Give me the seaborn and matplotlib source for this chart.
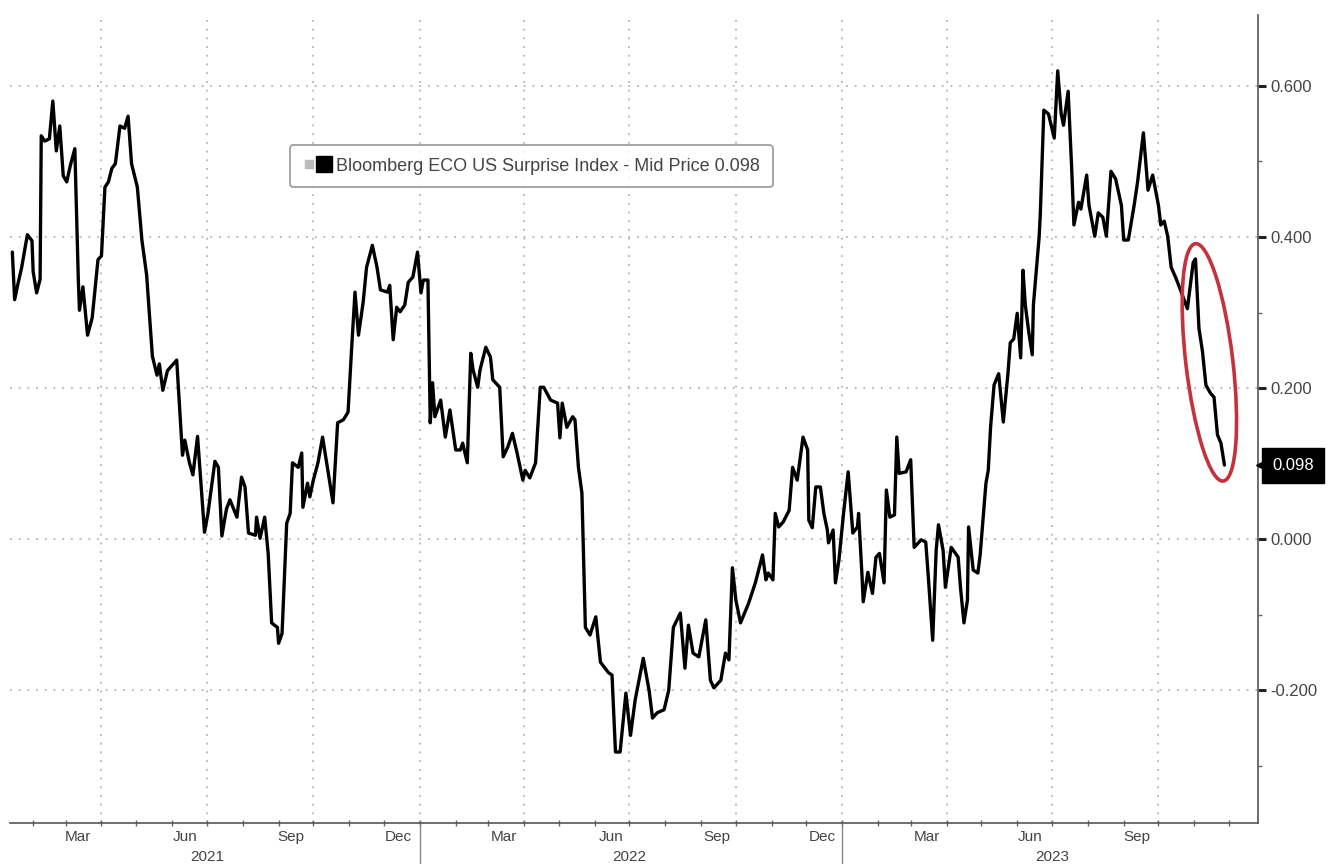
import numpy as np
import pandas as pd
import matplotlib
matplotlib.use("Agg")
import matplotlib.pyplot as plt
import matplotlib.dates as mdates
import matplotlib.transforms as mtrans
from matplotlib.patches import Ellipse
from matplotlib.lines import Line2D
from matplotlib.legend_handler import HandlerTuple
from matplotlib.ticker import FixedLocator
import seaborn as sns

# ---------------- data ----------------
dates_2021 = [
    "2021-01-14", "2021-01-16", "2021-01-19", "2021-01-22", "2021-01-27", "2021-01-31",
    "2021-02-01", "2021-02-04", "2021-02-07", "2021-02-08", "2021-02-11", "2021-02-15",
    "2021-02-18", "2021-02-21", "2021-02-24", "2021-02-27", "2021-03-02", "2021-03-05",
    "2021-03-09", "2021-03-12", "2021-03-13", "2021-03-16", "2021-03-20", "2021-03-24",
    "2021-03-29", "2021-04-01", "2021-04-04", "2021-04-07", "2021-04-10", "2021-04-13",
    "2021-04-17", "2021-04-21", "2021-04-24", "2021-04-27", "2021-05-02", "2021-05-06",
    "2021-05-10", "2021-05-15", "2021-05-19", "2021-05-21", "2021-05-24", "2021-05-28",
    "2021-06-05", "2021-06-10", "2021-06-12", "2021-06-16", "2021-06-19", "2021-06-23",
    "2021-06-29", "2021-07-02", "2021-07-08", "2021-07-11", "2021-07-14", "2021-07-18",
    "2021-07-21", "2021-07-27", "2021-07-31", "2021-08-03", "2021-08-06", "2021-08-12",
    "2021-08-13", "2021-08-16", "2021-08-20", "2021-08-23", "2021-08-26", "2021-08-31",
    "2021-09-01", "2021-09-04", "2021-09-08", "2021-09-11", "2021-09-13", "2021-09-18",
    "2021-09-21", "2021-09-22", "2021-09-26", "2021-09-28", "2021-10-01", "2021-10-05",
    "2021-10-09", "2021-10-14", "2021-10-18", "2021-10-22", "2021-10-27", "2021-10-31",
    "2021-11-03", "2021-11-06", "2021-11-09", "2021-11-13", "2021-11-16", "2021-11-21",
    "2021-11-25", "2021-11-28", "2021-12-04", "2021-12-06", "2021-12-09", "2021-12-12",
    "2021-12-15", "2021-12-19", "2021-12-22", "2021-12-26", "2021-12-30",
]
values_2021 = [
    0.380, 0.317, 0.339, 0.359, 0.403, 0.395,
    0.354, 0.326, 0.344, 0.534, 0.527, 0.530,
    0.580, 0.514, 0.547, 0.481, 0.473, 0.494,
    0.517, 0.344, 0.303, 0.334, 0.270, 0.293,
    0.370, 0.375, 0.466, 0.473, 0.491, 0.497,
    0.547, 0.544, 0.560, 0.497, 0.466, 0.395,
    0.350, 0.242, 0.217, 0.232, 0.197, 0.223,
    0.237, 0.111, 0.131, 0.101, 0.085, 0.136,
    0.009, 0.034, 0.103, 0.095, 0.004, 0.040,
    0.052, 0.029, 0.082, 0.069, 0.008, 0.005,
    0.029, 0.001, 0.029, -0.019, -0.111, -0.117,
    -0.138, -0.125, 0.021, 0.034, 0.101, 0.095,
    0.114, 0.042, 0.074, 0.056, 0.078, 0.101,
    0.135, 0.087, 0.048, 0.154, 0.158, 0.168,
    0.250, 0.327, 0.270, 0.313, 0.360, 0.389,
    0.360, 0.330, 0.327, 0.336, 0.264, 0.307,
    0.301, 0.310, 0.340, 0.347, 0.380,
]

dates_2022 = [
    "2022-01-02", "2022-01-04", "2022-01-08", "2022-01-10", "2022-01-12", "2022-01-14",
    "2022-01-19", "2022-01-23", "2022-01-27", "2022-02-01", "2022-02-05", "2022-02-07",
    "2022-02-11", "2022-02-14", "2022-02-16", "2022-02-20", "2022-02-22", "2022-02-27",
    "2022-03-03", "2022-03-05", "2022-03-11", "2022-03-14", "2022-03-18", "2022-03-22",
    "2022-03-26", "2022-03-31", "2022-04-02", "2022-04-06", "2022-04-11", "2022-04-15",
    "2022-04-18", "2022-04-24", "2022-04-30", "2022-05-02", "2022-05-04", "2022-05-08",
    "2022-05-13", "2022-05-15", "2022-05-18", "2022-05-21", "2022-05-24", "2022-05-28",
    "2022-06-02", "2022-06-06", "2022-06-13", "2022-06-16", "2022-06-19", "2022-06-23",
    "2022-06-28", "2022-07-02", "2022-07-06", "2022-07-13", "2022-07-18", "2022-07-21",
    "2022-07-25", "2022-07-31", "2022-08-04", "2022-08-08", "2022-08-14", "2022-08-18",
    "2022-08-21", "2022-08-25", "2022-08-30", "2022-09-05", "2022-09-09", "2022-09-12",
    "2022-09-18", "2022-09-22", "2022-09-25", "2022-09-28", "2022-10-01", "2022-10-05",
    "2022-10-12", "2022-10-18", "2022-10-24", "2022-10-27", "2022-10-29", "2022-11-02",
    "2022-11-04", "2022-11-07", "2022-11-11", "2022-11-16", "2022-11-19", "2022-11-23",
    "2022-11-28", "2022-12-02", "2022-12-03", "2022-12-06", "2022-12-09", "2022-12-13",
    "2022-12-16", "2022-12-19", "2022-12-20", "2022-12-24", "2022-12-26", "2022-12-29",
]
values_2022 = [
    0.326, 0.343, 0.343, 0.154, 0.207, 0.162,
    0.184, 0.135, 0.171, 0.118, 0.118, 0.127,
    0.101, 0.246, 0.224, 0.201, 0.224, 0.254,
    0.241, 0.211, 0.201, 0.109, 0.122, 0.140,
    0.114, 0.078, 0.091, 0.081, 0.101, 0.201,
    0.201, 0.184, 0.180, 0.134, 0.180, 0.148,
    0.162, 0.158, 0.095, 0.061, -0.117, -0.127,
    -0.103, -0.163, -0.177, -0.180, -0.282, -0.282,
    -0.204, -0.260, -0.213, -0.158, -0.200, -0.237,
    -0.230, -0.226, -0.200, -0.117, -0.098, -0.171,
    -0.114, -0.151, -0.156, -0.107, -0.187, -0.197,
    -0.187, -0.151, -0.160, -0.038, -0.081, -0.111,
    -0.085, -0.057, -0.021, -0.054, -0.045, -0.054,
    0.034, 0.016, 0.023, 0.038, 0.095, 0.078,
    0.135, 0.118, 0.025, 0.015, 0.069, 0.069,
    0.034, 0.012, -0.005, 0.012, -0.058, -0.028,
]

dates_2023 = [
    "2023-01-02", "2023-01-06", "2023-01-10", "2023-01-14", "2023-01-15", "2023-01-18",
    "2023-01-19", "2023-01-23", "2023-01-27", "2023-01-30", "2023-02-02", "2023-02-06",
    "2023-02-08", "2023-02-11", "2023-02-15", "2023-02-17", "2023-02-19", "2023-02-25",
    "2023-03-01", "2023-03-04", "2023-03-10", "2023-03-14", "2023-03-16", "2023-03-20",
    "2023-03-23", "2023-03-25", "2023-03-29", "2023-03-31", "2023-04-05", "2023-04-11",
    "2023-04-13", "2023-04-16", "2023-04-19", "2023-04-20", "2023-04-24", "2023-04-28",
    "2023-04-30", "2023-05-05", "2023-05-07", "2023-05-09", "2023-05-12", "2023-05-16",
    "2023-05-20", "2023-05-24", "2023-05-26", "2023-05-29", "2023-06-01", "2023-06-04",
    "2023-06-06", "2023-06-08", "2023-06-11", "2023-06-14", "2023-06-15", "2023-06-20",
    "2023-06-21", "2023-06-24", "2023-06-28", "2023-07-03", "2023-07-06", "2023-07-09",
    "2023-07-11", "2023-07-15", "2023-07-18", "2023-07-20", "2023-07-24", "2023-07-26",
    "2023-07-31", "2023-08-02", "2023-08-07", "2023-08-10", "2023-08-14", "2023-08-17",
    "2023-08-21", "2023-08-25", "2023-08-30", "2023-09-01", "2023-09-05", "2023-09-10",
    "2023-09-13", "2023-09-18", "2023-09-22", "2023-09-26", "2023-10-01", "2023-10-03",
    "2023-10-06", "2023-10-09", "2023-10-12", "2023-10-16", "2023-10-20", "2023-10-26",
    "2023-10-31", "2023-11-02", "2023-11-05", "2023-11-08", "2023-11-11", "2023-11-15",
    "2023-11-18", "2023-11-21", "2023-11-24", "2023-11-27",
]
values_2023 = [
    0.034, 0.089, 0.008, 0.016, 0.034, -0.050,
    -0.083, -0.044, -0.072, -0.024, -0.019, -0.058,
    0.065, 0.029, 0.032, 0.135, 0.087, 0.089,
    0.105, -0.011, -0.001, -0.004, -0.045, -0.134,
    -0.015, 0.019, -0.015, -0.064, -0.011, -0.024,
    -0.064, -0.111, -0.081, 0.016, -0.041, -0.045,
    -0.021, 0.074, 0.091, 0.148, 0.204, 0.219,
    0.155, 0.219, 0.260, 0.265, 0.299, 0.240,
    0.356, 0.310, 0.274, 0.244, 0.310, 0.401,
    0.432, 0.568, 0.563, 0.531, 0.620, 0.563,
    0.548, 0.593, 0.493, 0.416, 0.446, 0.437,
    0.482, 0.442, 0.401, 0.432, 0.426, 0.401,
    0.487, 0.477, 0.442, 0.396, 0.396, 0.442,
    0.473, 0.538, 0.462, 0.482, 0.442, 0.416,
    0.421, 0.401, 0.360, 0.346, 0.330, 0.305,
    0.366, 0.371, 0.279, 0.249, 0.204, 0.193,
    0.188, 0.138, 0.127, 0.098,
]

series_name = "Bloomberg ECO US Surprise Index - Mid Price"
last_value = 0.098
y_ticks = [0.6, 0.4, 0.2, 0.0, -0.2]
y_tick_labels = ["0.600", "0.400", "0.200", "0.000", "-0.200"]
y_minor_ticks = [0.5, 0.3, 0.1, -0.1, -0.3]
month_label_dates = ["2021-03-12", "2021-06-12", "2021-09-12", "2021-12-13",
                     "2022-03-15", "2022-06-15", "2022-09-15", "2022-12-15",
                     "2023-03-15", "2023-06-12", "2023-09-12"]
month_labels = ["Mar", "Jun", "Sep", "Dec", "Mar", "Jun", "Sep", "Dec",
                "Mar", "Jun", "Sep"]
year_label_dates = ["2021-07-01", "2022-07-01", "2023-07-01"]
year_labels = ["2021", "2022", "2023"]
year_breaks = ["2022-01-01", "2023-01-01"]
quarter_grid_dates = ["2021-04-01", "2021-07-01", "2021-10-01", "2022-01-01",
                      "2022-04-01", "2022-07-01", "2022-10-01", "2023-01-01",
                      "2023-04-01", "2023-07-01", "2023-10-01"]
highlight_center = ("2023-11-14", 0.234)

# ---------------- figure ----------------
sns.set_theme(style="white")
plt.rcParams['font.family'] = ['Liberation Sans Narrow', 'Liberation Sans', 'DejaVu Sans']

W, H = 1329, 864
fig = plt.figure(figsize=(W / 100, H / 100), dpi=100)
fig.patch.set_facecolor("white")
ax = fig.add_axes([10 / W, 41 / H, 1248 / W, 808 / H])
ax.set_facecolor("white")

df = pd.DataFrame({
    "date": pd.to_datetime(dates_2021 + dates_2022 + dates_2023),
    "value": values_2021 + values_2022 + values_2023,
})

grid_kw = dict(color="#a8a8a8", lw=1.1, linestyle=(0, (1.2, 4.5)), zorder=0)
for y in y_ticks:
    ax.axhline(y, **grid_kw)
for d in quarter_grid_dates:
    ax.axvline(pd.Timestamp(d), **grid_kw)

sns.lineplot(data=df, x="date", y="value", ax=ax, color="black", lw=2.4,
             legend=False, zorder=3)

ax.set_xlim(pd.Timestamp("2021-01-12"), pd.Timestamp("2023-12-26"))
ax.set_ylim(-0.376, 0.694)
ax.set_xlabel("")
ax.set_ylabel("")

for s in ["left", "top"]:
    ax.spines[s].set_visible(False)
for s in ["right", "bottom"]:
    ax.spines[s].set_color("#555555")
    ax.spines[s].set_linewidth(1.2)

# y axis on the right
ax.yaxis.tick_right()
ax.set_yticks(y_ticks)
ax.set_yticklabels(y_tick_labels)
ax.yaxis.set_minor_locator(FixedLocator(y_minor_ticks))
ax.tick_params(axis="y", which="major", direction="out", length=6, width=2.2,
               color="#222222", labelcolor="#444444", labelsize=12, pad=3,
               right=True, left=False)
ax.tick_params(axis="y", which="minor", direction="out", length=3, width=1,
               color="#666666", right=True, left=False)

# x axis: month labels at mid-month, month ticks at month starts
ax.set_xticks(pd.to_datetime(month_label_dates))
ax.set_xticklabels(month_labels)
ax.xaxis.set_minor_locator(mdates.MonthLocator())
ax.tick_params(axis="x", which="major", length=0, labelsize=11,
               labelcolor="#444444", pad=5)
ax.tick_params(axis="x", which="minor", direction="inout", length=5, width=1,
               color="#666666", bottom=True)

blend = mtrans.blended_transform_factory(ax.transData, ax.transAxes)
for d, lab in zip(year_label_dates, year_labels):
    ax.text(pd.Timestamp(d), -0.042, lab, transform=blend, ha="center",
            va="center", fontsize=11, color="#444444")
for d in year_breaks:
    ax.plot([pd.Timestamp(d)] * 2, [0, -0.06], transform=blend, color="#888888",
            lw=1.0, clip_on=False)

# last value tag
blend_y = mtrans.blended_transform_factory(ax.transAxes, ax.transData)
ax.plot([1.003], [last_value], marker="<", ms=9, color="black",
        transform=blend_y, clip_on=False, zorder=5)
ax.annotate(f"{last_value:.3f}", xy=(1.0, last_value),
            xycoords=("axes fraction", "data"), xytext=(10, 0),
            textcoords="offset points", ha="left", va="center",
            fontsize=12, color="white", zorder=6, annotation_clip=False,
            bbox=dict(boxstyle="square,pad=0.6", fc="black", ec="black"))

# red ellipse highlighting the recent drop
cx = mdates.date2num(pd.Timestamp(highlight_center[0]))
etrans = fig.dpi_scale_trans + mtrans.ScaledTranslation(cx, highlight_center[1], ax.transData)
ax.add_patch(Ellipse((0, 0), width=0.47, height=2.39, angle=6.7, fill=False,
                     ec="#c4323c", lw=2.6, transform=etrans, zorder=4,
                     clip_on=False))

# legend
h_gray = Line2D([], [], marker="s", ls="", color="#bbbbbb", ms=6)
h_black = Line2D([], [], marker="s", ls="", color="black", ms=11)
leg = ax.legend([(h_gray, h_black)], [f"{series_name} {last_value:.3f}"],
                handler_map={tuple: HandlerTuple(ndivide=None, pad=0.1)},
                loc="upper left", bbox_to_anchor=(0.224, 0.839),
                borderaxespad=0.0, frameon=True, fancybox=True, fontsize=13,
                handlelength=1.6, handletextpad=0.3, borderpad=0.7)
leg.get_frame().set_edgecolor("#888888")
leg.get_frame().set_linewidth(1.3)
for t in leg.get_texts():
    t.set_color("#444444")

fig.savefig("out.png", dpi=100, facecolor="white")
